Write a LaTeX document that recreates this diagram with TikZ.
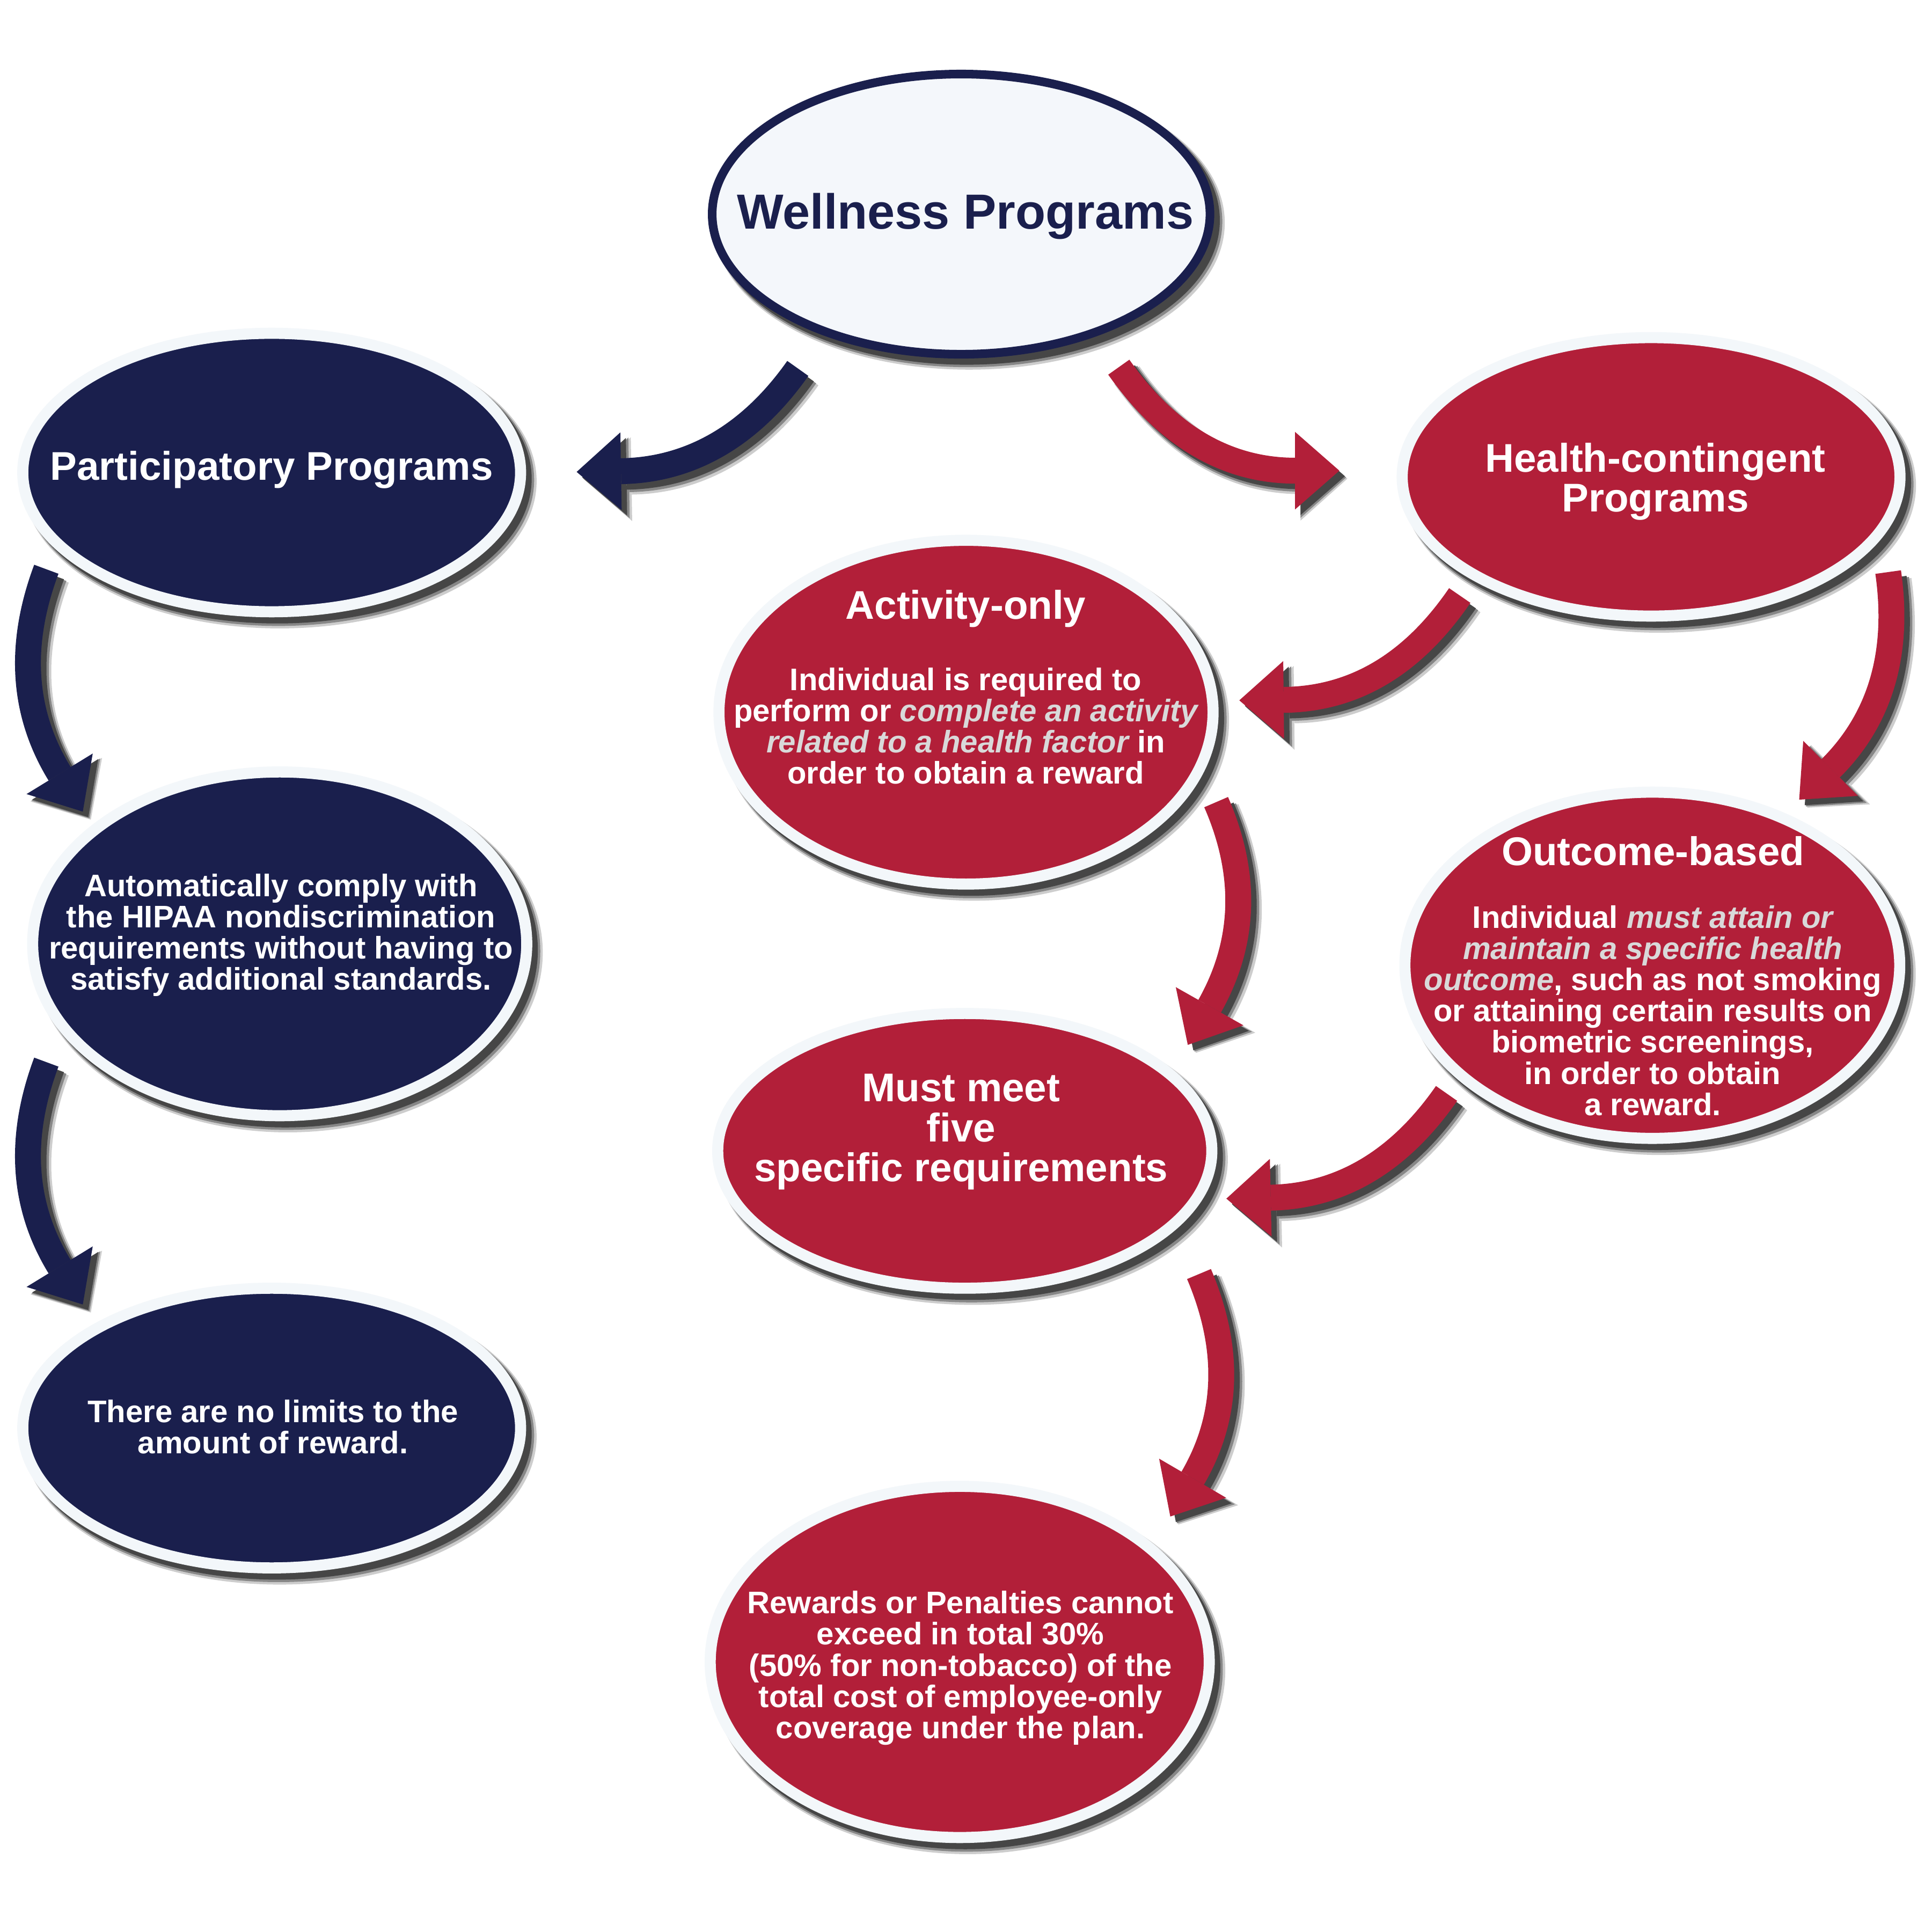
\documentclass[tikz,border=0pt]{standalone}
\usepackage{fontspec}
\setmainfont{Liberation Sans}
\usetikzlibrary{shapes.geometric,arrows.meta,shadows}
\definecolor{navy}{RGB}{26,31,77}
\definecolor{wred}{RGB}{178,31,57}
\definecolor{ringc}{RGB}{243,247,250}
\definecolor{wfill}{RGB}{244,247,251}
\definecolor{hlc}{RGB}{217,217,217}
\definecolor{shd}{RGB}{70,70,70}
\definecolor{shm}{RGB}{135,135,135}
\definecolor{shl}{RGB}{205,205,205}
\newcommand\hlit[1]{\textcolor{hlc}{\itshape #1}}
\newcommand\flowarrow[5]{%
  \draw[shl, line width=25pt, -{Triangle[length=38pt,width=68pt,line width=0pt]},
        transform canvas={shift={(6.5,6.5)}}] (#2) .. controls +(#3) and +(#4) .. (#5);
  \draw[shm, line width=23pt, -{Triangle[length=37pt,width=65.5pt,line width=0pt]},
        transform canvas={shift={(5.5,5.5)}}] (#2) .. controls +(#3) and +(#4) .. (#5);
  \draw[shd, line width=21pt, -{Triangle[length=36pt,width=63pt,line width=0pt]},
        transform canvas={shift={(4.5,4.5)}}] (#2) .. controls +(#3) and +(#4) .. (#5);
  \draw[#1, line width=21pt, -{Triangle[length=36pt,width=63pt,line width=0pt]}]
        (#2) .. controls +(#3) and +(#4) .. (#5);
}
\begin{document}
\begin{tikzpicture}[x=1pt,y=-1pt,
  bub/.style={ellipse, inner sep=0pt, outer sep=0pt, line width=9pt, draw=ringc,
    general shadow={shadow xshift=6.5pt, shadow yshift=-7pt, fill=shl, draw=shl, line width=13pt},
    general shadow={shadow xshift=5.5pt, shadow yshift=-6pt, fill=shm, draw=shm, line width=11pt},
    general shadow={shadow xshift=4.5pt, shadow yshift=-5pt, fill=shd, draw=shd, line width=9pt}},
  navyb/.style={bub, fill=navy},
  redb/.style={bub, fill=wred},
  topb/.style={ellipse, inner sep=0pt, outer sep=0pt, line width=7pt, draw=navy, fill=wfill,
    general shadow={shadow xshift=6.5pt, shadow yshift=-7pt, fill=shl, draw=shl, line width=11pt},
    general shadow={shadow xshift=5.5pt, shadow yshift=-6pt, fill=shm, draw=shm, line width=9pt},
    general shadow={shadow xshift=4.5pt, shadow yshift=-5pt, fill=shd, draw=shd, line width=7pt}},
  ttl/.style={text=white, font=\bfseries\fontsize{32.5}{32.5}\selectfont, inner sep=0pt, anchor=base},
  ttlm/.style={text=white, font=\bfseries\fontsize{32.5}{32.5}\selectfont, inner sep=0pt, anchor=north, align=center},
  body/.style={text=white, font=\bfseries\fontsize{25.3}{25.3}\selectfont, inner sep=0pt, anchor=north, align=center}
]
\useasboundingbox (0,0) rectangle (1568,1568);
\fill[white] (0,0) rectangle (1568,1568);

% ellipses
\node[topb,  minimum width=404pt, minimum height=227.4pt] (wp)   at (780,173.8) {};
\node[navyb, minimum width=404pt, minimum height=226pt]   (pp)   at (220.5,383.5) {};
\node[redb,  minimum width=404pt, minimum height=226pt]   (hc)   at (1340,387) {};
\node[redb,  minimum width=401pt, minimum height=279pt]   (act)  at (784,578) {};
\node[redb,  minimum width=401.6pt, minimum height=281pt] (outc) at (1341,783.4) {};
\node[navyb, minimum width=401pt, minimum height=279pt]   (auto) at (227,766) {};
\node[redb,  minimum width=401pt, minimum height=223pt]   (must) at (783,934) {};
\node[navyb, minimum width=404pt, minimum height=227pt]   (lim)  at (220.5,1159) {};
\node[redb,  minimum width=405pt, minimum height=285pt]   (rew)  at (778.9,1348.8) {};

% texts
\node[ttl, text=navy, font=\bfseries\fontsize{40}{40}\selectfont] (wpt) at (783.5,185.6) {Wellness Programs};
\node[ttl] (ppt) at (220.5,389.5) {Participatory Programs};
\node[ttlm, font=\bfseries\fontsize{32.5}{32}\selectfont] (hct) at (1343.5,359.4) {Health-contingent\\Programs};
\node[ttl] (actt) at (783.8,502.6) {Activity-only};
\node[body] (actb) at (783.8,541.8) {Individual is required to\\perform or \hlit{complete an activity}\\\hlit{related to a health factor} in\\order to obtain a reward};
\node[ttl] (outt) at (1341.6,702.5) {Outcome-based};
\node[body] (outb) at (1341.3,734.8) {Individual \hlit{must attain or}\\\hlit{maintain a specific health}\\\hlit{outcome}, such as not smoking\\or attaining certain results on\\biometric screenings,\\in order to obtain\\a reward.};
\node[ttlm] (mustt) at (780,871.4) {Must meet\\five\\specific requirements};
\node[body] (rewb) at (779.5,1291.1) {Rewards or Penalties cannot\\exceed in total 30\%\\(50\% for non-tobacco) of the\\total cost of employee-only\\coverage under the plan.};
\node[body] (autob) at (228,709.1) {Automatically comply with\\the HIPAA nondiscrimination\\requirements without having to\\satisfy additional standards.};
\node[body] (limb) at (221.5,1136) {There are no limits to the\\amount of reward.};

% arrow end points
\coordinate (a1s) at (647.5,299);   \coordinate (a1e) at (468,383);
\coordinate (a2s) at (908,298);     \coordinate (a2e) at (1087,382);
\coordinate (a3s) at (37.6,462);    \coordinate (a3e) at (67.2,658.7);
\coordinate (a4s) at (37.6,862);    \coordinate (a4e) at (67.2,1058.7);
\coordinate (a5s) at (1184.7,483.3);\coordinate (a5e) at (1005.8,568.4);
\coordinate (a6s) at (1532.4,464.3);\coordinate (a6e) at (1460.2,649);
\coordinate (a7s) at (987,651);     \coordinate (a7e) at (964,848);
\coordinate (a8s) at (1174,887.4);  \coordinate (a8e) at (995.3,972.8);
\coordinate (a9s) at (973.1,1034);  \coordinate (a9e) at (949.8,1230.8);

\flowarrow{navy}{a1s}{-38.8,55}{92,-1.5}{a1e}
\flowarrow{wred}{a2s}{39,55.3}{-92,0}{a2e}
\flowarrow{navy}{a3s}{-23,61.5}{-49,-80}{a3e}
\flowarrow{navy}{a4s}{-23,61.5}{-49,-80}{a4e}
\flowarrow{wred}{a5s}{-38.3,56}{93,-1}{a5e}
\flowarrow{wred}{a6s}{9.4,65.9}{65.9,-65.6}{a6e}
\flowarrow{wred}{a7s}{25.6,58.7}{46.8,-82.9}{a7e}
\flowarrow{wred}{a8s}{-38.8,55.8}{92,-2}{a8e}
\flowarrow{wred}{a9s}{25.7,60.7}{47.2,-80.9}{a9e}
\end{tikzpicture}
\end{document}
